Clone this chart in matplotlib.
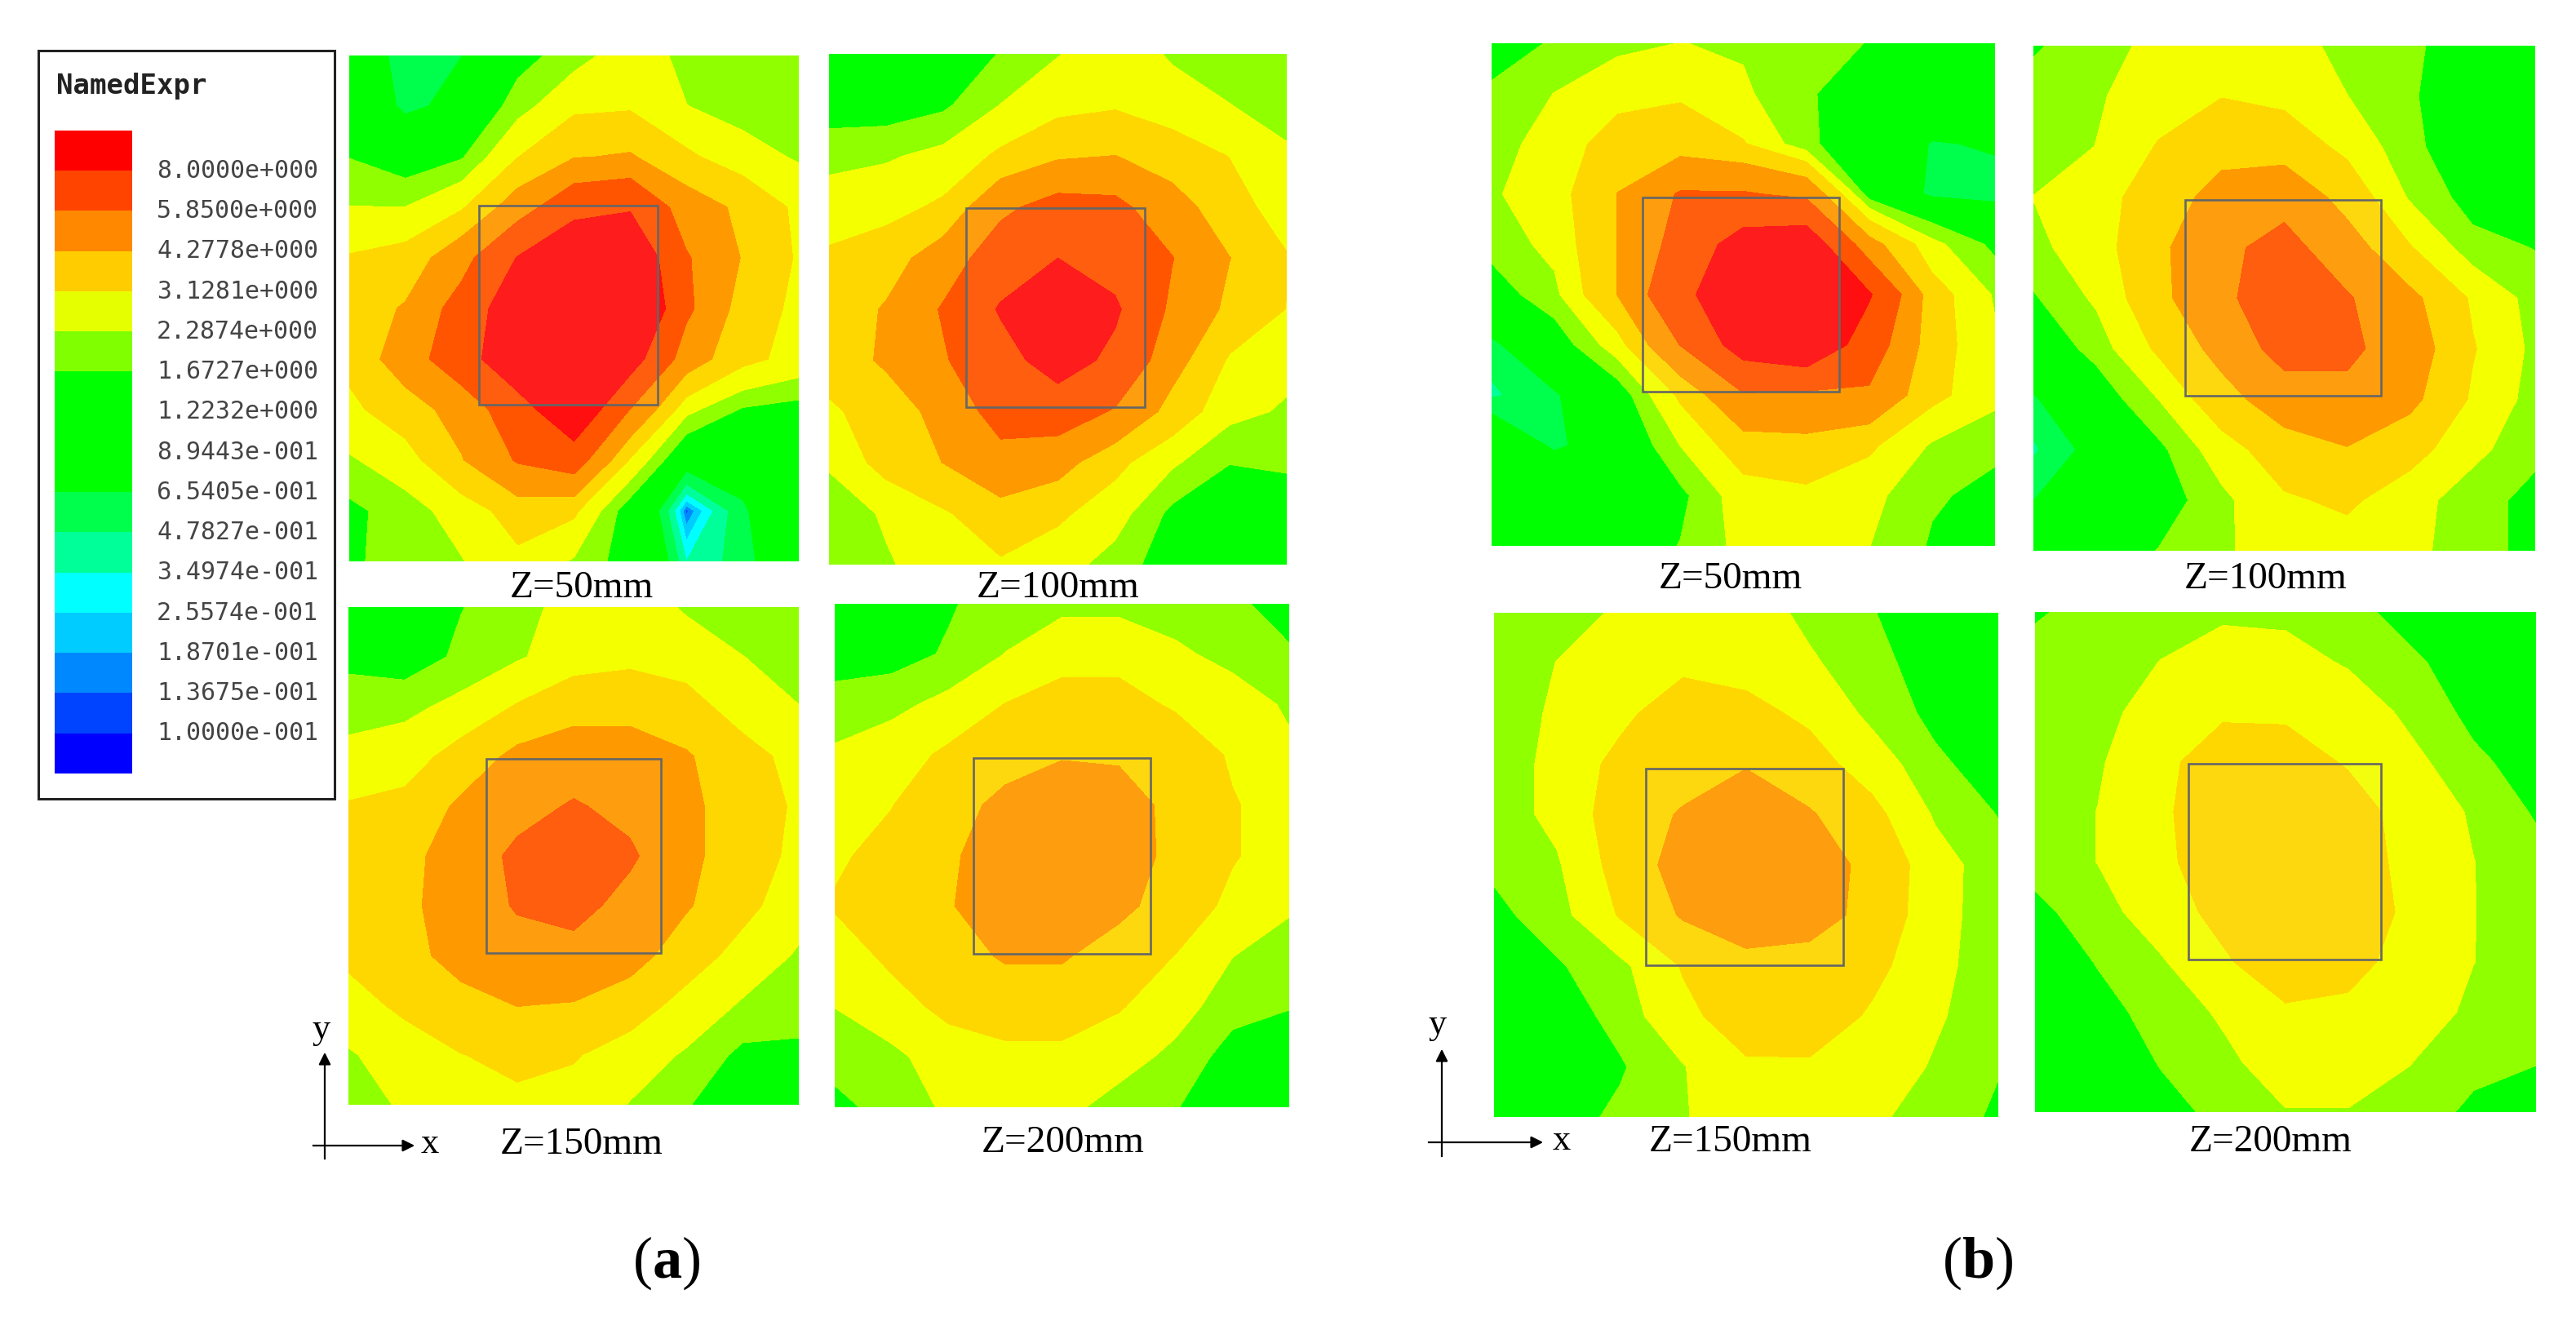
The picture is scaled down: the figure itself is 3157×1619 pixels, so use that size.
import numpy as np
import matplotlib
matplotlib.use('Agg')
import matplotlib.pyplot as plt
from matplotlib.colors import ListedColormap
from matplotlib.patches import Rectangle

plt.rcParams['mathtext.fontset'] = 'custom'
plt.rcParams['mathtext.bf'] = 'Liberation Serif:bold'
plt.rcParams['mathtext.rm'] = 'Liberation Serif'

W, H = 3157, 1619

# legend levels, low to high
levels = [0.1, 0.13675, 0.18701, 0.25574, 0.34974, 0.47827, 0.65405, 0.89443,
          1.2232, 1.6727, 2.2874, 3.1281, 4.2778, 5.85, 8.0]
level_labels = ['8.0000e+000', '5.8500e+000', '4.2778e+000', '3.1281e+000', '2.2874e+000',
                '1.6727e+000', '1.2232e+000', '8.9443e-001', '6.5405e-001', '4.7827e-001',
                '3.4974e-001', '2.5574e-001', '1.8701e-001', '1.3675e-001', '1.0000e-001']
legend_colors = ['#0000ff', '#0044ff', '#0088ff', '#00ccff', '#00ffff', '#00ff99', '#00ff4c',
                 '#00ff00', '#00ff00', '#00ff00', '#80ff00', '#e6ff00', '#ffcc00', '#ff8800',
                 '#ff4400', '#ff0000']
field_colors = ['#0000ff', '#0044ff', '#0088ff', '#00ccff', '#00ffff', '#00ff99', '#00ff4c',
                '#00ff00', '#00ff00', '#00ff00', '#90ff00', '#f4ff00', '#ffd700', '#ff9900',
                '#ff5500', '#ff0f0f']

# field values, rows top to bottom, 9 columns left to right
a_50 = [[1.0, 0.5, 0.65, 1.4, 2.0, 2.7, 2.1, 1.9, 1.9],
        [1.2, 0.55, 0.8, 2.0, 2.9, 3.0, 2.3, 2.0, 1.9],
        [1.65, 1.2, 1.6, 3.1, 4.2, 4.4, 3.3, 2.6, 2.2],
        [2.3, 2.3, 3.0, 5.0, 7.3, 7.8, 5.0, 4.0, 2.9],
        [3.2, 3.5, 5.2, 8.1, 10, 10, 6.0, 4.2, 3.0],
        [3.6, 4.4, 6.6, 9.5, 11, 11, 6.2, 3.7, 2.9],
        [3.4, 5.0, 7.0, 9.8, 11, 9, 5.0, 3.4, 2.8],
        [2.9, 3.7, 4.8, 7.0, 10, 5.8, 2.5, 1.6, 1.4],
        [2.2, 2.7, 4.2, 6.0, 6.8, 3.0, 0.8, 0.85, 1.3],
        [1.5, 2.0, 2.6, 3.6, 3.3, 1.2, 0.12, 0.6, 1.1],
        [1.5, 2.1, 2.25, 2.9, 2.2, 1.3, 0.35, 0.55, 1.0]]
a_100 = [[1.2, 1.2, 1.3, 1.7, 2.25, 2.7, 2.2, 1.95, 1.8],
         [1.3, 1.3, 1.55, 2.3, 2.8, 3.0, 2.6, 2.3, 2.0],
         [2.1, 2.2, 2.5, 3.3, 4.1, 4.3, 3.7, 3.1, 2.4],
         [2.6, 2.8, 3.3, 5.5, 6.5, 6.3, 4.8, 3.6, 2.6],
         [3.3, 3.7, 5.0, 6.8, 8.0, 7.2, 5.9, 4.3, 3.2],
         [3.5, 4.4, 6.0, 8.2, 10, 8.3, 5.5, 4.0, 3.1],
         [3.5, 4.5, 5.7, 7.2, 9, 7.5, 4.8, 3.0, 2.5],
         [3.0, 3.5, 4.8, 6.5, 6.8, 5.7, 3.8, 2.5, 2.2],
         [2.4, 3.5, 4.3, 5.3, 4.8, 3.4, 2.4, 1.7, 1.8],
         [1.8, 2.4, 3.0, 3.8, 3.3, 2.6, 1.5, 1.0, 1.2],
         [1.9, 2.2, 2.7, 3.0, 2.6, 2.0, 1.3, 1.1, 1.2]]
a_150 = [[1.3, 1.3, 1.65, 2.0, 2.6, 2.7, 2.2, 1.9, 1.7],
         [1.5, 1.3, 1.8, 2.2, 2.7, 2.9, 2.7, 2.3, 2.0],
         [2.0, 2.1, 2.5, 3.2, 3.8, 3.8, 3.5, 2.7, 2.3],
         [2.5, 2.7, 3.5, 4.6, 5.0, 5.0, 4.4, 3.5, 2.8],
         [3.2, 3.4, 4.5, 5.3, 6.0, 5.4, 4.6, 3.6, 3.0],
         [3.4, 3.9, 4.9, 6.2, 6.8, 6.1, 4.6, 3.6, 2.9],
         [3.5, 4.0, 4.9, 6.0, 6.4, 5.3, 4.4, 3.4, 2.6],
         [3.3, 3.9, 4.7, 5.2, 5.3, 4.8, 3.6, 2.8, 2.2],
         [2.8, 3.3, 3.9, 4.3, 4.2, 3.6, 2.8, 2.2, 2.0],
         [2.2, 2.7, 3.1, 3.4, 3.2, 2.7, 2.2, 1.5, 1.5],
         [1.9, 2.4, 2.7, 2.9, 2.8, 2.25, 1.7, 1.4, 1.4]]
a_200 = [[1.3, 1.3, 1.6, 2.0, 2.1, 2.1, 2.0, 1.8, 1.4],
         [1.4, 1.4, 1.75, 2.3, 2.8, 2.8, 2.4, 2.1, 1.75],
         [1.9, 2.1, 2.5, 3.15, 3.5, 3.5, 3.0, 2.6, 2.2],
         [2.4, 2.7, 3.3, 3.8, 4.2, 4.1, 3.8, 3.0, 2.4],
         [2.9, 3.1, 3.8, 4.6, 4.9, 4.9, 3.9, 3.2, 2.7],
         [3.0, 3.4, 4.1, 4.9, 5.3, 5.0, 3.9, 3.2, 2.7],
         [3.2, 3.6, 4.2, 4.9, 5.1, 4.6, 3.7, 2.9, 2.4],
         [2.7, 3.3, 3.8, 4.4, 4.4, 3.7, 3.1, 2.3, 1.9],
         [2.3, 2.8, 3.35, 3.6, 3.6, 3.2, 2.6, 1.9, 1.7],
         [1.9, 2.1, 2.7, 2.9, 2.9, 2.6, 2.1, 1.4, 1.3],
         [1.5, 1.9, 2.4, 2.6, 2.5, 2.0, 1.7, 1.3, 1.3]]
b_50 = [[1.3, 1.75, 2.1, 2.3, 2.2, 1.9, 1.65, 1.3, 1.2],
        [1.8, 2.3, 2.8, 3.0, 2.4, 1.75, 1.3, 1.2, 1.2],
        [2.0, 2.6, 3.6, 3.7, 3.2, 1.8, 1.2, 0.62, 0.7],
        [2.2, 2.7, 4.3, 6.0, 6.0, 5.5, 1.3, 0.55, 0.5],
        [1.9, 2.5, 4.3, 6.5, 9, 9.5, 4.8, 2.5, 1.5],
        [1.3, 2.1, 4.3, 7.5, 9.5, 9.5, 8.2, 3.6, 2.2],
        [0.55, 1.2, 2.7, 5.9, 9, 10, 6.9, 3.6, 2.4],
        [0.45, 0.6, 1.2, 3.3, 5.7, 5.5, 5.6, 3.4, 2.5],
        [1.0, 0.6, 0.85, 2.3, 3.7, 3.9, 3.3, 2.2, 1.8],
        [1.1, 1.1, 1.1, 1.5, 2.7, 2.9, 2.5, 1.75, 1.5],
        [1.2, 1.2, 1.2, 1.7, 2.5, 2.7, 2.3, 1.6, 1.4]]
b_100 = [[1.6, 2.0, 2.5, 2.8, 2.7, 2.0, 1.8, 1.3, 1.2],
         [1.9, 2.2, 2.7, 3.1, 2.9, 2.3, 1.75, 1.2, 1.2],
         [1.9, 2.3, 3.2, 3.9, 3.7, 2.9, 1.8, 1.3, 1.2],
         [2.3, 2.7, 3.7, 4.7, 5.3, 3.8, 2.2, 1.4, 1.2],
         [2.1, 2.7, 4.0, 5.5, 6.4, 4.9, 3.2, 1.9, 1.65],
         [1.6, 2.4, 3.9, 5.6, 6.6, 6.0, 4.6, 3.0, 2.0],
         [1.1, 1.9, 3.3, 4.7, 6.5, 6.2, 5.0, 3.2, 2.1],
         [0.6, 1.2, 2.3, 3.8, 5.0, 5.4, 4.6, 3.0, 2.0],
         [0.45, 0.75, 1.5, 2.7, 3.7, 4.2, 3.5, 2.5, 1.8],
         [0.65, 1.0, 1.3, 2.1, 3.0, 3.3, 2.6, 1.9, 1.5],
         [1.2, 1.2, 1.7, 2.2, 2.6, 2.7, 2.5, 1.9, 1.5]]
b_150 = [[1.9, 2.1, 2.35, 2.7, 2.7, 2.1, 1.7, 1.3, 1.2],
         [1.9, 2.3, 2.7, 2.9, 2.8, 2.4, 1.85, 1.4, 1.3],
         [1.9, 2.4, 2.9, 3.7, 3.4, 2.95, 2.1, 1.5, 1.3],
         [1.9, 2.5, 3.4, 3.7, 4.2, 3.5, 2.7, 1.8, 1.35],
         [1.9, 2.5, 3.6, 4.4, 5.0, 4.4, 3.4, 2.2, 1.65],
         [1.8, 2.2, 3.5, 4.8, 5.3, 5.0, 3.9, 2.6, 1.9],
         [1.5, 2.0, 3.2, 4.4, 5.0, 4.8, 3.9, 2.5, 2.0],
         [1.2, 1.6, 2.1, 3.2, 3.9, 3.8, 3.4, 2.5, 1.9],
         [1.2, 1.3, 1.9, 2.9, 3.6, 3.7, 3.0, 2.4, 1.8],
         [1.2, 1.3, 1.6, 2.25, 3.0, 3.0, 2.8, 2.2, 1.7],
         [1.3, 1.4, 1.8, 2.25, 2.6, 2.7, 2.45, 1.9, 1.6]]
b_200 = [[1.6, 1.9, 2.0, 2.1, 2.1, 1.9, 1.4, 1.2, 1.2],
         [1.9, 1.9, 2.3, 2.8, 2.6, 2.2, 1.8, 1.3, 1.3],
         [1.9, 2.0, 2.7, 3.0, 3.0, 2.8, 2.1, 1.5, 1.3],
         [1.9, 2.2, 2.9, 3.6, 3.5, 3.05, 2.5, 1.8, 1.4],
         [1.9, 2.3, 3.0, 3.6, 3.7, 3.5, 2.8, 2.2, 1.6],
         [1.9, 2.3, 2.9, 3.7, 3.8, 3.7, 2.8, 2.3, 1.9],
         [1.5, 2.0, 2.7, 3.4, 3.8, 3.8, 2.9, 2.3, 2.0],
         [1.3, 1.7, 2.2, 3.0, 3.7, 3.4, 2.8, 2.3, 1.9],
         [1.2, 1.5, 1.85, 2.4, 3.0, 2.95, 2.8, 2.1, 1.8],
         [1.2, 1.3, 1.7, 2.1, 2.7, 2.7, 2.3, 1.9, 1.7],
         [1.2, 1.3, 1.5, 1.8, 2.25, 2.25, 2.1, 1.5, 1.3]]

# (values, caption, panel box px, inner square px, caption centre px)
panels = [
    (a_50, 'Z=50mm', (428, 68, 979, 688), (587, 252, 806, 496), (713, 721)),
    (a_100, 'Z=100mm', (1016, 66, 1577, 692), (1184, 255, 1403, 499), (1297, 721)),
    (a_150, 'Z=150mm', (427, 744, 979, 1354), (596, 930, 810, 1168), (713, 1403)),
    (a_200, 'Z=200mm', (1023, 740, 1580, 1357), (1193, 929, 1410, 1169), (1303, 1401)),
    (b_50, 'Z=50mm', (1828, 53, 2445, 669), (2013, 242, 2254, 480), (2121, 710)),
    (b_100, 'Z=100mm', (2492, 56, 3107, 675), (2678, 245, 2918, 485), (2777, 710)),
    (b_150, 'Z=150mm', (1831, 751, 2449, 1369), (2017, 942, 2259, 1183), (2121, 1400)),
    (b_200, 'Z=200mm', (2494, 750, 3108, 1363), (2682, 936, 2918, 1176), (2783, 1400)),
]


def px_axes(x0, y0, x1, y1):
    ax = fig.add_axes([x0 / W, 1 - y1 / H, (x1 - x0) / W, (y1 - y0) / H])
    ax.axis('off')
    return ax


def axis_cross(xv, ytop, ybot, yh, xl, xr, ylab, xlab):
    page.plot([xv, xv], [ytop + 10, ybot], color='black', lw=1.6)
    page.annotate('', xy=(xv, ytop), xytext=(xv, ytop + 20),
                  arrowprops=dict(arrowstyle='-|>', color='black', lw=1.6, mutation_scale=22))
    page.plot([xl, xr - 10], [yh, yh], color='black', lw=1.6)
    page.annotate('', xy=(xr, yh), xytext=(xr - 20, yh),
                  arrowprops=dict(arrowstyle='-|>', color='black', lw=1.6, mutation_scale=22))
    page.text(ylab[0], ylab[1], 'y', family='Liberation Serif', fontsize=32, ha='center', va='center')
    page.text(xlab[0], xlab[1], 'x', family='Liberation Serif', fontsize=32, ha='center', va='center')


fig = plt.figure(figsize=(W / 100, H / 100), dpi=100, facecolor='white')

page = fig.add_axes([0, 0, 1, 1])
page.set_xlim(0, W)
page.set_ylim(H, 0)
page.axis('off')

for values, caption, box, square, centre in panels:
    ax = px_axes(*box)
    grid = np.array(values)
    xs = np.linspace(0, 1, grid.shape[1])
    ys = np.linspace(0, 1, grid.shape[0])
    ax.contourf(xs, ys, grid, levels=levels, colors=field_colors, extend='both')
    ax.set_xlim(0, 1)
    ax.set_ylim(1, 0)
    ax.axis('off')
    # translucent inner square, drawn in panel fractions
    sx = (square[0] - box[0]) / (box[2] - box[0])
    sy = (square[1] - box[1]) / (box[3] - box[1])
    sw = (square[2] - square[0]) / (box[2] - box[0])
    sh = (square[3] - square[1]) / (box[3] - box[1])
    ax.add_patch(Rectangle((sx, sy), sw, sh, facecolor='#f0f0f0', edgecolor='none', alpha=0.06, zorder=5))
    ax.add_patch(Rectangle((sx, sy), sw, sh, facecolor='none', edgecolor='#666666', lw=1.9, zorder=6))
    page.text(centre[0], centre[1], caption, family='Liberation Serif', fontsize=34,
              ha='center', va='center')

# legend
page.add_patch(Rectangle((47, 62), 363, 917, facecolor='white', edgecolor='#222222', lw=2.2))
page.text(69, 105, 'NamedExpr', family='DejaVu Sans Mono', fontweight='bold', fontsize=24.5,
          color='#222222', ha='left', va='center')
bar = px_axes(67, 160, 162, 948)
bar.pcolormesh([0, 1], np.arange(17), np.arange(16)[:, None], cmap=ListedColormap(legend_colors),
               vmin=-0.5, vmax=15.5)
bar.set_ylim(0, 16)
bar.axis('off')
for i, label in enumerate(level_labels):
    page.text(192, 160 + (i + 1) * 788 / 16, label, family='DejaVu Sans Mono', fontsize=21.5,
              color='#444444', ha='left', va='center')

axis_cross(398, 1287, 1420, 1404, 384, 511, (394, 1262), (527, 1402))
axis_cross(1767, 1283, 1417, 1400, 1751, 1894, (1762, 1256), (1914, 1398))

page.text(817, 1548, r'($\mathbf{a}$)', family='Liberation Serif', fontsize=52, ha='center', va='center')
page.text(2424, 1548, r'($\mathbf{b}$)', family='Liberation Serif', fontsize=52, ha='center', va='center')

fig.savefig('out.png', dpi=100)
